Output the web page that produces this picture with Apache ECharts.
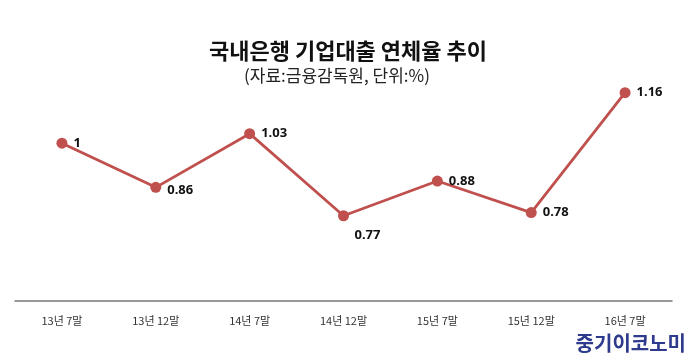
<!DOCTYPE html>
<html><head><meta charset="utf-8">
<script src="https://cdn.jsdelivr.net/npm/echarts@6/dist/echarts.min.js"></script>
<style>html,body{margin:0;padding:0;background:#fff}#c{width:700px;height:364px}</style>
</head><body><div id="c"></div>
<script>
var categories = ['13년 7말','13년 12말','14년 7말','14년 12말','15년 7말','15년 12말','16년 7말'];
var values = [1, 0.86, 1.03, 0.77, 0.88, 0.78, 1.16];
var valueLabels = ['1','0.86','1.03','0.77','0.88','0.78','1.16'];

var chart = echarts.init(document.getElementById('c'));
var data = values.map(function(v, i){
  var item = {value: v};
  if (i === 3) item.label = {position: 'bottom', offset: [24, 2]};
  if (i === 1) item.label = {offset: [0, 3]};
  return item;
});
chart.setOption({
  animation: false,
  title: [
    {text: '국내은행 기업대출 연체율 추이', left: 343, top: 35, textAlign: 'center',
     textStyle: {fontSize: 22, fontWeight: 'bold', color: '#111', fontFamily: 'Noto Sans CJK KR'}},
    {text: '(자료:금융감독원, 단위:%)', left: 332, top: 62, textAlign: 'center',
     textStyle: {fontSize: 17, fontWeight: 'normal', color: '#222', fontFamily: 'Noto Sans CJK KR'}},
    {text: '중기이코노미', left: 681, top: 328, textAlign: 'right',
     textStyle: {fontSize: 20, fontWeight: 'bold', color: '#2e3a8c', fontFamily: 'Noto Sans CJK KR'}}
  ],
  grid: {left: 15, right: 28, top: 80, bottom: 63},
  xAxis: {
    type: 'category', data: categories, boundaryGap: true,
    axisLine: {lineStyle: {color: '#777', width: 1.5}},
    axisTick: {show: false},
    axisLabel: {color: '#333', fontSize: 11, margin: 14, fontFamily: 'Noto Sans CJK KR'}
  },
  yAxis: {type: 'value', min: 0.5, max: 1.2, show: false, splitLine: {show: false}},
  series: [{
    type: 'line', data: data,
    lineStyle: {color: '#c0504d', width: 2.8},
    itemStyle: {color: '#c0504d'},
    symbol: 'circle', symbolSize: 11,
    label: {show: true, position: 'right', distance: 6, color: '#111', fontSize: 13, fontWeight: 'bold',
      fontFamily: 'Noto Sans',
      formatter: function(p){ return valueLabels[p.dataIndex]; }}
  }]
});
</script></body></html>
